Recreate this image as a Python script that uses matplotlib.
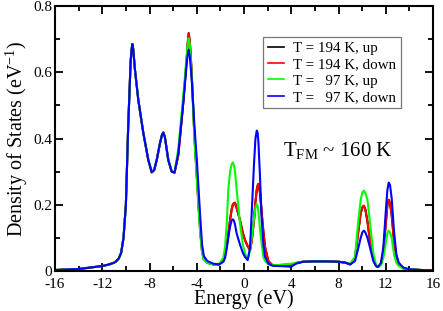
import matplotlib
matplotlib.use("Agg")
import matplotlib.pyplot as plt
from matplotlib.ticker import MultipleLocator

plt.rcParams['font.family'] = ['Liberation Serif', 'DejaVu Serif']
plt.rcParams['mathtext.fontset'] = 'custom'
plt.rcParams['mathtext.rm'] = 'Liberation Serif'
plt.rcParams['mathtext.it'] = 'Liberation Serif'
plt.rcParams['axes.unicode_minus'] = False

energy_low = [-16, -14, -12, -11.5, -11, -10.8, -10.6, -10.4, -10.2, -10.0, -9.8, -9.6, -9.52, -9.45, -9.38,
              -9.23, -8.95, -8.52, -8.1, -7.81, -7.6, -7.39, -7.11, -6.95, -6.83, -6.7, -6.41, -6.12, -5.88]
dos_low = [0.003, 0.006, 0.015, 0.019, 0.025, 0.03, 0.038, 0.055, 0.1, 0.2, 0.44, 0.63, 0.668, 0.685, 0.67,
           0.607, 0.517, 0.416, 0.335, 0.298, 0.305, 0.335, 0.386, 0.41, 0.418, 0.405, 0.335, 0.3, 0.297]

energy_high = [-5.56, -5.14, -4.85, -4.76, -4.68, -4.58, -4.43, -4.2, -4.0, -3.85, -3.7, -3.55, -3.4, -3.1, -2.6, -2.1,
               -1.75, -1.6, -1.45, -1.33, -1.18, -1.05, -0.95, -0.85, -0.76, -0.62, -0.34, -0.1, 0.09, 0.31, 0.51,
               0.65, 0.85, 0.97, 1.08, 1.15, 1.22, 1.36, 1.5, 1.64, 1.78, 2.06, 2.4, 2.9, 3.5, 4.0, 4.4, 5.0, 6.0,
               7.0, 8.0, 8.6, 9.0, 9.4, 9.68, 9.88, 10.02, 10.15, 10.28, 10.45, 10.67, 10.95, 11.18, 11.35, 11.6,
               11.8, 12.03, 12.14, 12.25, 12.36, 12.5, 12.7, 12.9, 13.1, 13.5, 14.0, 15.0, 16.0]

down_97 = [0.356, 0.507, 0.627, 0.655, 0.668, 0.645, 0.58, 0.44, 0.34, 0.25, 0.16, 0.08, 0.045, 0.03, 0.022, 0.02,
           0.028, 0.04, 0.07, 0.1, 0.134, 0.152, 0.156, 0.152, 0.14, 0.113, 0.08, 0.055, 0.042, 0.033, 0.07,
           0.174, 0.325, 0.4, 0.424, 0.418, 0.39, 0.28, 0.154, 0.08, 0.043, 0.022, 0.016, 0.015, 0.014, 0.013, 0.022, 0.028, 0.029,
           0.029, 0.028, 0.025, 0.02, 0.03, 0.07, 0.1, 0.117, 0.122, 0.116, 0.1, 0.07, 0.03, 0.015, 0.012, 0.025,
           0.073, 0.194, 0.245, 0.267, 0.26, 0.22, 0.12, 0.05, 0.025, 0.01, 0.005, 0.003, 0.002]

down_194 = [0.35, 0.51, 0.64, 0.69, 0.718, 0.69, 0.6, 0.41, 0.29, 0.2, 0.12, 0.06, 0.035, 0.025, 0.02, 0.02,
            0.03, 0.05, 0.08, 0.11, 0.154, 0.185, 0.2, 0.205, 0.206, 0.19, 0.154, 0.115, 0.093, 0.075, 0.063,
            0.09, 0.154, 0.21, 0.245, 0.258, 0.263, 0.235, 0.174, 0.12, 0.073, 0.03, 0.018, 0.015, 0.016, 0.018, 0.024, 0.028, 0.029,
            0.029, 0.028, 0.025, 0.02, 0.04, 0.12, 0.175, 0.192, 0.197, 0.185, 0.15, 0.09, 0.035, 0.015, 0.012, 0.022,
            0.06, 0.154, 0.2, 0.215, 0.205, 0.17, 0.09, 0.043, 0.02, 0.008, 0.005, 0.003, 0.002]

up_97 = [0.37, 0.53, 0.65, 0.685, 0.703, 0.68, 0.59, 0.4, 0.28, 0.19, 0.11, 0.055, 0.033, 0.024, 0.02, 0.022,
         0.04, 0.073, 0.15, 0.245, 0.3, 0.322, 0.328, 0.32, 0.3, 0.245, 0.144, 0.08, 0.053, 0.035, 0.06,
         0.1, 0.16, 0.19, 0.202, 0.197, 0.18, 0.124, 0.08, 0.043, 0.03, 0.02, 0.018, 0.018, 0.021, 0.022, 0.025, 0.028, 0.029,
         0.029, 0.028, 0.025, 0.022, 0.043, 0.154, 0.215, 0.237, 0.243, 0.235, 0.215, 0.144, 0.053, 0.018, 0.012, 0.018,
         0.04, 0.09, 0.115, 0.122, 0.117, 0.1, 0.05, 0.025, 0.015, 0.007, 0.005, 0.003, 0.002]

up_194 = list(down_194)

for arr in (down_97, down_194, up_97):
    assert len(arr) == len(energy_high), len(arr)

energy = energy_low + energy_high
series = [
    ("T = 194 K, up", dos_low + up_194, "black"),
    ("T = 194 K, down", dos_low + down_194, "#ff0000"),
    ("T =   97 K, up", dos_low + up_97, "#00ff00"),
    ("T =   97 K, down", dos_low + down_97, "#0000ff"),
]

fig = plt.figure(figsize=(4.43, 3.11), dpi=100)
ax = fig.add_axes([55 / 443, 1 - 271 / 311, 378 / 443, 265 / 311])

for label, vals, col in series:
    ax.plot(energy, vals, color=col, lw=1.5, label=label, solid_joinstyle='round')

ax.set_xlim(-16, 16)
ax.set_ylim(0, 0.8)
ax.xaxis.set_major_locator(MultipleLocator(4))
ax.xaxis.set_minor_locator(MultipleLocator(2))
ax.yaxis.set_minor_locator(MultipleLocator(0.1))
ax.set_yticks([0, 0.2, 0.4, 0.6, 0.8])
ax.set_yticklabels(["0", "0.2", "0.4", "0.6", "0.8"])
ax.tick_params(which='both', direction='in', top=True, right=True, labelsize=11, width=1.3)
ax.tick_params(axis='x', pad=5)
ax.tick_params(axis='y', pad=2)
ax.tick_params(which='major', length=6)
ax.tick_params(which='minor', length=3.5)
for s in ax.spines.values():
    s.set_linewidth(1.5)

ax.set_xlabel("Energy (eV)", fontsize=14.5, labelpad=-1)
ax.set_ylabel("Density of States (eV$^{-1}$)", fontsize=14.5, labelpad=2)

leg = ax.legend(loc='upper left', bbox_to_anchor=(0.551, 0.882), borderaxespad=0,
                fontsize=10.8, frameon=True, fancybox=False, handlelength=1.05, handletextpad=0.65,
                labelspacing=0.18, borderpad=0.3)
leg.get_frame().set_edgecolor('#555555')
leg.get_frame().set_linewidth(0.9)
for line in leg.get_lines():
    line.set_linewidth(1.2)

ax.text(0.604, 0.435, "T$_{\\mathrm{FM}}$ ~ 160 K", transform=ax.transAxes, fontsize=15,
        ha='left', va='baseline')

fig.savefig("out.png", dpi=100)
